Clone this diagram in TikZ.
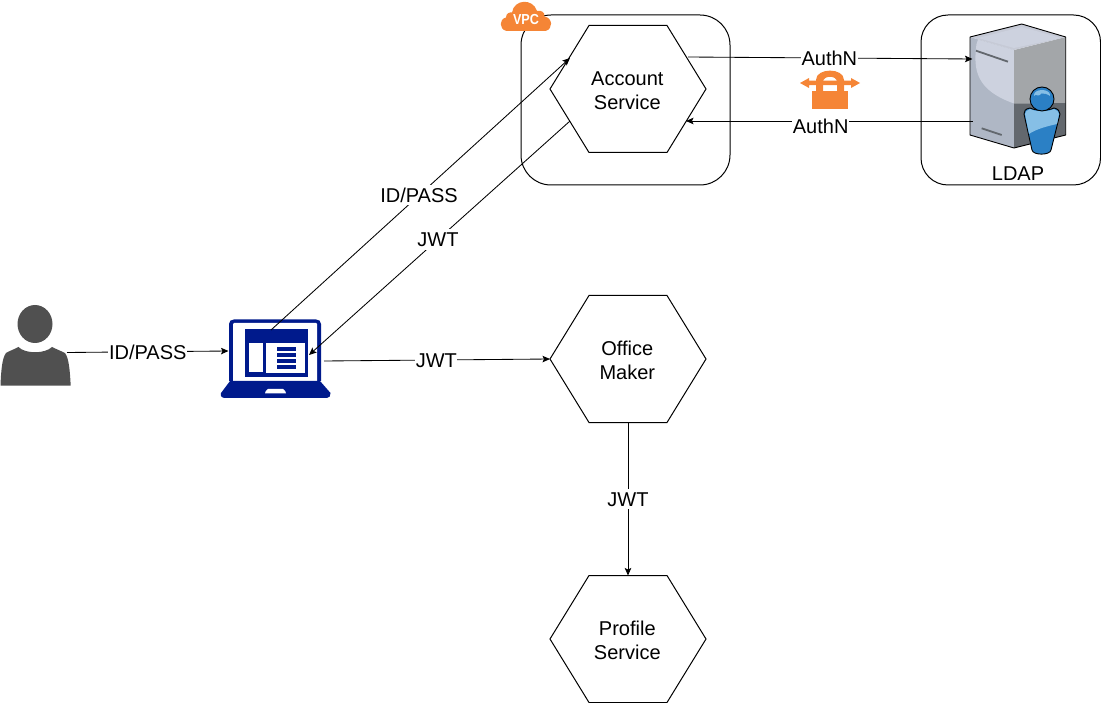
\documentclass[tikz,border=0pt]{standalone}
\usepackage{fontspec}
\setmainfont{Liberation Sans}
\usetikzlibrary{arrows.meta}
\definecolor{awsorange}{HTML}{F58536}
\definecolor{lapblue}{HTML}{001A8C}
\definecolor{usergray}{HTML}{505050}
\definecolor{srvleft}{HTML}{AFB7C5}
\definecolor{srvlight}{HTML}{CDD2DF}
\definecolor{srvright}{HTML}{A3A6A9}
\definecolor{srvdark}{HTML}{63686E}
\definecolor{srvtop}{HTML}{C6CAD6}
\definecolor{pblue}{HTML}{2B80C5}
\definecolor{plight}{HTML}{86BFE6}
\tikzset{
  txt/.style={font=\fontsize{20}{24}\selectfont,align=center,text=black,inner sep=0pt},
  lab/.style={font=\fontsize{20}{24}\selectfont,text=black,fill=white,inner sep=0.6pt,text height=17pt,text depth=2pt},
  conn/.style={draw=black,line width=0.85pt,-{Stealth[length=7.5pt,width=6.5pt,inset=1.5pt]}},
  box/.style={draw=black,line width=1pt,rounded corners=27pt,fill=white},
  hexline/.style={draw=black,line width=1pt,fill=white},
  anchorbox/.style={inner sep=0pt,outer sep=0pt,minimum width=#1}
}
\newcommand{\hexnode}[4]{%
  \draw[hexline] (#2-78,#3) -- (#2-39,#3-63.5) -- (#2+39,#3-63.5) -- (#2+78,#3) -- (#2+39,#3+63.5) -- (#2-39,#3+63.5) -- cycle;
  \node[anchorbox=156pt,minimum height=127pt] (#1) at (#2,#3) {};
  \node[txt] (#1text) at (#2-0.7,#3+1.8) {#4};
}
\begin{document}
\begin{tikzpicture}[x=1pt,y=-1pt]
\useasboundingbox (0,0) rectangle (1101,703);
% VPC and LDAP frames
\draw[box,rounded corners=30pt] (521,15) rectangle (730,185);
\draw[box] (921,15) rectangle (1100.5,185);
% VPC cloud
\fill[awsorange] (506,30.8) .. controls (499,29) and (499,19) .. (506,17.5)
  .. controls (506,13) and (510,12) .. (512,12.5)
  .. controls (514,-1) and (533,-2) .. (537,11)
  .. controls (541,10) and (545,12) .. (544.5,16.5)
  .. controls (553,18) and (553,29) .. (546,30.8) -- cycle;
\node[font=\fontsize{14.5}{15}\selectfont\bfseries,text=white,inner sep=0pt,xscale=0.87] (vpc) at (526,19.7) {VPC};
% hexagons
\hexnode{acc}{628}{89}{Account\\Service}
\hexnode{office}{628}{359}{Office\\Maker}
\hexnode{profile}{628}{639}{Profile\\Service}
% user
\node[anchorbox=71pt,minimum height=81pt] (user) at (35.5,345.5) {};
\fill[usergray] (35,324) ellipse[x radius=17.5,y radius=19];
\fill[usergray] (0.5,385.7) .. controls (1,372) and (2,358) .. (6,353)
  .. controls (9,351) and (15,349) .. (18.5,347)
  .. controls (25,354) and (45,354) .. (52,347)
  .. controls (56,349) and (61,351) .. (65,353)
  .. controls (69,358) and (70,372) .. (70.7,385.7) -- cycle;
% laptop
\node[anchorbox=111pt,minimum height=79pt] (laptop) at (275.5,359) {};
\fill[lapblue] (229,381) -- (229,324) .. controls (229,321) and (231,319.5) .. (234,319.5)
  -- (316,319.5) .. controls (319,319.5) and (321,321) .. (321,324) -- (321,381) -- cycle;
\fill[white] (233,324) .. controls (233,323.5) and (233.5,323) .. (234,323) -- (316,323) .. controls (316.5,323) and (317,323.5) .. (317,324) -- (317,381) -- (233,381) -- cycle;
\fill[lapblue] (230,381) -- (320,381) -- (330.5,393) .. controls (331,396) and (329,398) .. (327,398) -- (225,398) .. controls (222,398) and (220,396) .. (221,393) -- cycle;
\fill[white] (268,389) -- (283,389) .. controls (285,390) and (286,392) .. (286,393.5) -- (265,393.5) .. controls (265,392) and (266,390) .. (268,389) -- cycle;
\fill[lapblue] (245,329) rectangle (308,377);
\fill[white] (249,343.3) rectangle (262.7,372.3);
\fill[white] (266,343.3) rectangle (305,373.3);
\fill[lapblue] (276.7,347.3) rectangle (295.7,351);
\fill[lapblue] (276.7,353.3) rectangle (295.7,356.7);
\fill[lapblue] (276.7,359) rectangle (295.7,362.7);
\fill[lapblue] (276.7,365) rectangle (295.7,369);
% lock
\fill[awsorange] (816,91) -- (816,80) .. controls (816,67.5) and (844,67.5) .. (844,80) -- (844,91) -- (837,91) -- (837,82)
  .. controls (837,75) and (823,75) .. (823,82) -- (823,91) -- cycle;
\fill[awsorange] (812,90.7) rectangle (848,109.5);
\fill[awsorange] (800,83) -- (809,78) -- (809,80.7) -- (851,80.7) -- (851,78) -- (860,83) -- (851,88) -- (851,85.2) -- (809,85.2) -- (809,88) -- cycle;
% server
\node[anchorbox=96pt,minimum height=124pt] (ldapsrv) at (1018,86) {};
\fill[srvleft] (970,37) -- (1014,50) -- (1014,148) -- (970,135) -- cycle;
\fill[srvlight] (976.5,44) .. controls (973,70) and (976,90) .. (1014,103.5) -- (1014,50) -- (978,39.5) -- cycle;
\fill[srvright] (1014,50) -- (1065.7,37) -- (1065.7,103) -- (1014,103.5) -- cycle;
\fill[srvdark] (1014,103.5) -- (1065.7,103) -- (1065.7,135) -- (1014,148) -- cycle;
\fill[srvtop] (970,37) -- (1021.7,24) -- (1065.7,37) -- (1014,50) -- cycle;
\fill[srvlight] (978,38) -- (1021.7,27) -- (1061,38) -- (1014,48) -- cycle;
\draw[black,line width=0.9pt,line join=round] (970,37) -- (1021.7,24) -- (1065.7,37) -- (1065.7,135) -- (1014,148) -- (970,135) -- cycle;
\draw[srvdark,line width=1.8pt] (976,50.7) -- (1008,61.7);
\draw[srvdark,line width=1.8pt] (981.7,128.3) -- (1001.7,135);
% LDAP person
\fill[pblue,draw=black,line width=0.9pt] (1030,108) .. controls (1025,109) and (1024,111) .. (1024,114)
  -- (1032,150) .. controls (1033,155.5) and (1050,155.5) .. (1051,150) -- (1060,114)
  .. controls (1060,111) and (1058,109) .. (1054,108) .. controls (1048,111) and (1036,111) .. (1030,108) -- cycle;
\fill[plight] (1025,114) .. controls (1025,112) and (1027,110) .. (1030,109) .. controls (1036,112) and (1048,112) .. (1054,109) .. controls (1057,110) and (1059,112) .. (1059,114)
  -- (1057,124) .. controls (1048,126) and (1036,129) .. (1029,134) -- cycle;
\fill[pblue,draw=black,line width=0.9pt] (1042,99) circle[radius=12];
\fill[plight] (1042,95) ellipse[x radius=8,y radius=5];
\fill[pblue] (1042,100) ellipse[x radius=10,y radius=6.5];
\fill[plight] (1038,93.5) ellipse[x radius=3,y radius=2];
\node[txt] (ldap) at (1018,173.5) {LDAP};
% connector ends
\coordinate (userout) at (67,352.5);
\coordinate (lapin) at (228.5,351);
\coordinate (laptop1) at (271,330);
\coordinate (accin) at (570,58);
\coordinate (accout) at (570,121);
\coordinate (lapin2) at (309,355);
\coordinate (lapout) at (324,361);
\coordinate (accr1) at (688,57);
\coordinate (ldapin) at (972.5,59);
\coordinate (ldapout) at (972.5,121);
\coordinate (accr2) at (686,121);
% connectors
\draw[conn] (userout) -- node[lab] {ID/PASS} (lapin);
\draw[conn] (laptop1) -- node[lab,pos=0.495] {ID/PASS} (accin);
\draw[conn] (accout) -- node[lab,pos=0.506] {JWT} (lapin2);
\draw[conn] (lapout) -- node[lab,pos=0.497] {JWT} (office.west);
\draw[conn] (office.south) -- node[lab] {JWT} (profile.north);
\draw[conn] (accr1) -- node[lab,pos=0.497] {AuthN} (ldapin);
\draw[conn] (ldapout) -- node[lab,pos=0.53,yshift=-5pt] {AuthN} (accr2);
\end{tikzpicture}
\end{document}
